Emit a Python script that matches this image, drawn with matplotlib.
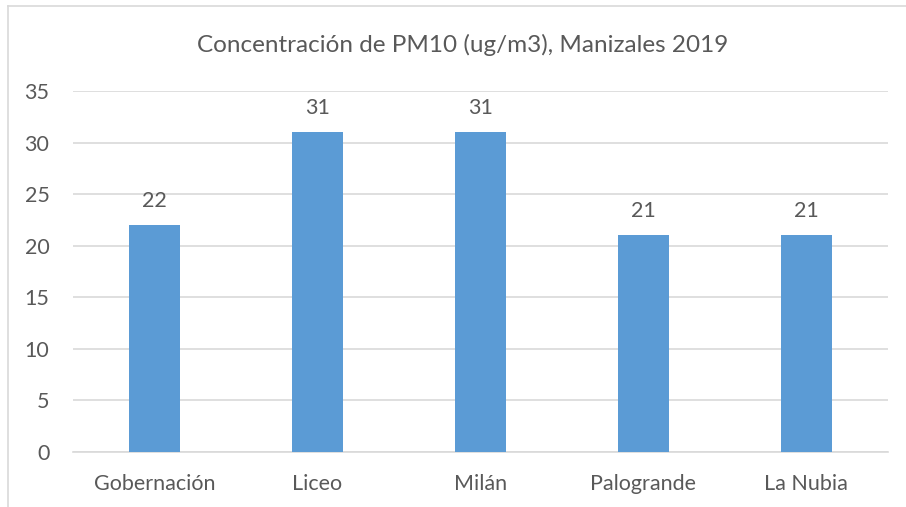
import matplotlib.pyplot as plt
from matplotlib.lines import Line2D

# Datos de PM10 por estación
estaciones = ["Gobernación", "Liceo", "Milán", "Palogrande", "La Nubia"]
pm10 = [22, 31, 31, 21, 21]
yticks = [0, 5, 10, 15, 20, 25, 30, 35]

plt.rcParams['font.family'] = ['Lato', 'DejaVu Sans']
gris = "#595959"

fig = plt.figure(figsize=(9.06, 5.07), dpi=100)
ax = fig.add_axes([0.0806, 0.1085, 0.8994, 0.712])

x = range(len(estaciones))
barras = ax.bar(x, pm10, width=0.31, color="#5B9BD5", zorder=3)
for b, v in zip(barras, pm10):
    ax.text(b.get_x() + b.get_width() / 2, v + 1.4, str(v), ha="center",
            va="bottom", fontsize=15.5, color=gris)

ax.set_xlim(-0.5, len(estaciones) - 0.5)
ax.set_ylim(0, 35)
ax.set_yticks(yticks)
ax.set_xticks(list(x))
ax.set_xticklabels(estaciones)
ax.grid(axis="y", color="#D9D9D9", linewidth=1.2, zorder=0)
for s in ["top", "right", "left"]:
    ax.spines[s].set_visible(False)
ax.spines["bottom"].set_color("#D9D9D9")
ax.spines["bottom"].set_linewidth(1.2)
ax.tick_params(axis="both", length=0, labelsize=15.5, colors=gris)
ax.tick_params(axis="x", pad=16)
ax.tick_params(axis="y", pad=17)

fig.text(0.511, 0.912, "Concentración de PM10 (ug/m3), Manizales 2019",
         ha="center", va="center", fontsize=17.5, color=gris)

# borde del área del gráfico
fig.add_artist(Line2D([8 / 906, 1], [1 - 6 / 507, 1 - 6 / 507],
                      color="#D9D9D9", linewidth=1.2))
fig.add_artist(Line2D([8 / 906, 8 / 906], [0, 1 - 6 / 507],
                      color="#D9D9D9", linewidth=1.2))

fig.savefig("out.png", dpi=100)
